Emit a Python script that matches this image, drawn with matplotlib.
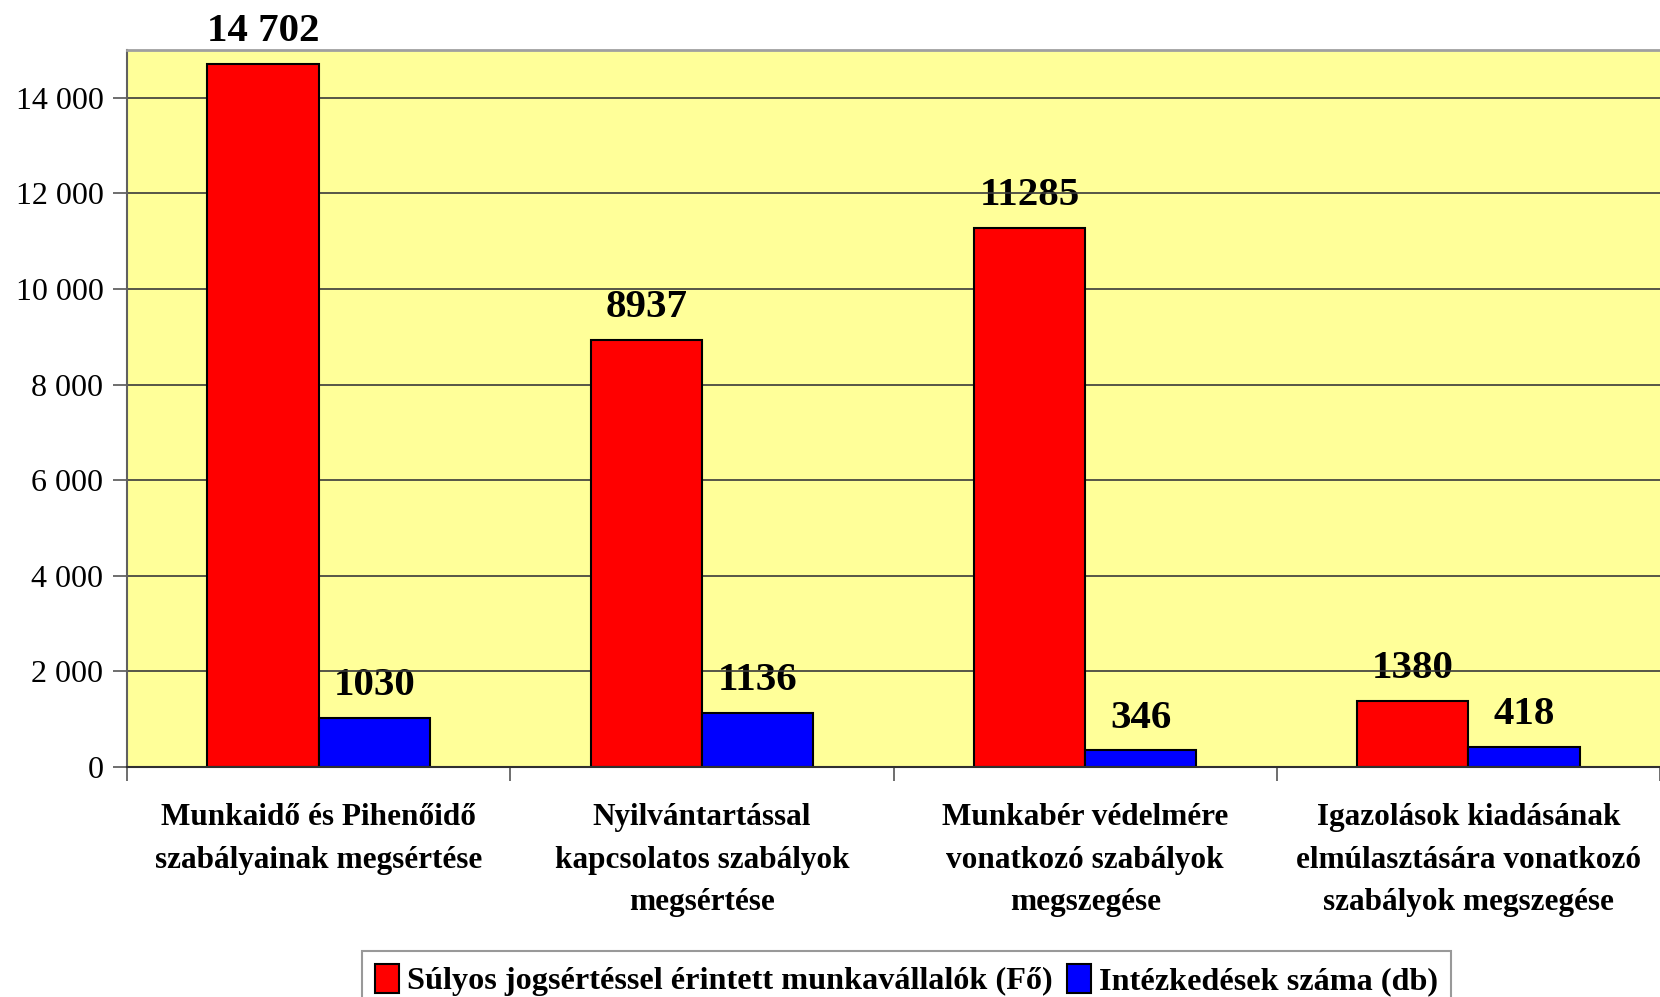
import matplotlib
matplotlib.use("Agg")
import matplotlib.pyplot as plt
import matplotlib.ticker as mticker
import numpy as np

categories = ["Munkaidő és Pihenőidő\nszabályainak megsértése",
              "Nyilvántartással\nkapcsolatos szabályok\nmegsértése",
              "Munkabér védelmére\nvonatkozó szabályok\nmegszegése",
              "Igazolások kiadásának\nelmúlasztására vonatkozó\nszabályok megszegése"]
sulyos = [14702, 8937, 11285, 1380]
sulyos_labels = ["14 702", "8937", "11285", "1380"]
intezkedes = [1030, 1136, 346, 418]
intezkedes_labels = ["1030", "1136", "346", "418"]
series_names = ["Súlyos jogsértéssel érintett munkavállalók (Fő)",
                "Intézkedések száma (db)"]

plt.rcParams['font.family'] = ['Liberation Serif', 'DejaVu Serif']

fig = plt.figure(figsize=(16.6, 9.97), dpi=100)
ax = fig.add_axes([127/1660, 1 - 767/997, 1 - 127/1660, (767 - 50)/997])
ax.set_facecolor('#FFFF99')

x = np.arange(len(categories))
w = 0.29
b1 = ax.bar(x - w/2, sulyos, w, color='#FF0000', edgecolor='black', linewidth=1.5,
            label=series_names[0], zorder=2)
b2 = ax.bar(x + w/2, intezkedes, w, color='#0000FF', edgecolor='black', linewidth=1.5,
            label=series_names[1], zorder=2)

# value labels, drawn below the gridlines like in the original
for bars, labs in ((b1, sulyos_labels), (b2, intezkedes_labels)):
    for r, t in zip(bars, labs):
        ax.annotate(t, (r.get_x() + r.get_width()/2, r.get_height()),
                    xytext=(0, 10), textcoords='offset points',
                    ha='center', va='bottom', fontsize=29.5, fontweight='bold',
                    zorder=0.3)

ax.set_xlim(-0.5, len(categories) - 0.5)
ax.set_ylim(0, 15000)
ax.yaxis.set_major_locator(mticker.MultipleLocator(2000))
ax.yaxis.set_major_formatter(mticker.FuncFormatter(lambda v, p: f"{int(v):,}".replace(",", " ")))
ax.yaxis.grid(True, color='#3a3a3a', linewidth=1.2, zorder=0.5)
ax.set_axisbelow(True)

ax.set_xticks(x)
ax.set_xticklabels(categories, fontsize=22.5, fontweight='bold', linespacing=1.62)
ax.set_xticks(np.arange(-0.5, len(categories)), minor=True)
ax.tick_params(axis='x', which='major', length=0, pad=26)
ax.tick_params(axis='x', which='minor', length=10, width=1.2, color='#555555')
ax.tick_params(axis='y', labelsize=23, length=10, width=1.2, color='#555555', pad=7)

ax.spines['top'].set_color('#a0a0a0')
ax.spines['top'].set_linewidth(2)
ax.spines['left'].set_color('#606060')
ax.spines['left'].set_linewidth(1.5)
ax.spines['bottom'].set_color('#303030')
ax.spines['bottom'].set_linewidth(1.5)
ax.spines['right'].set_visible(False)

leg = fig.legend(loc='upper left', bbox_to_anchor=(362/1660, 1 - 951/997),
                 ncol=2, frameon=True, fancybox=False, edgecolor='#808080',
                 prop={'size': 23.2, 'weight': 'bold'}, handlelength=0.75,
                 handleheight=1.0, handletextpad=0.25, columnspacing=0.45,
                 borderpad=0.4, borderaxespad=0)
leg.get_frame().set_linewidth(1.5)

plt.savefig("out.png", dpi=100)
